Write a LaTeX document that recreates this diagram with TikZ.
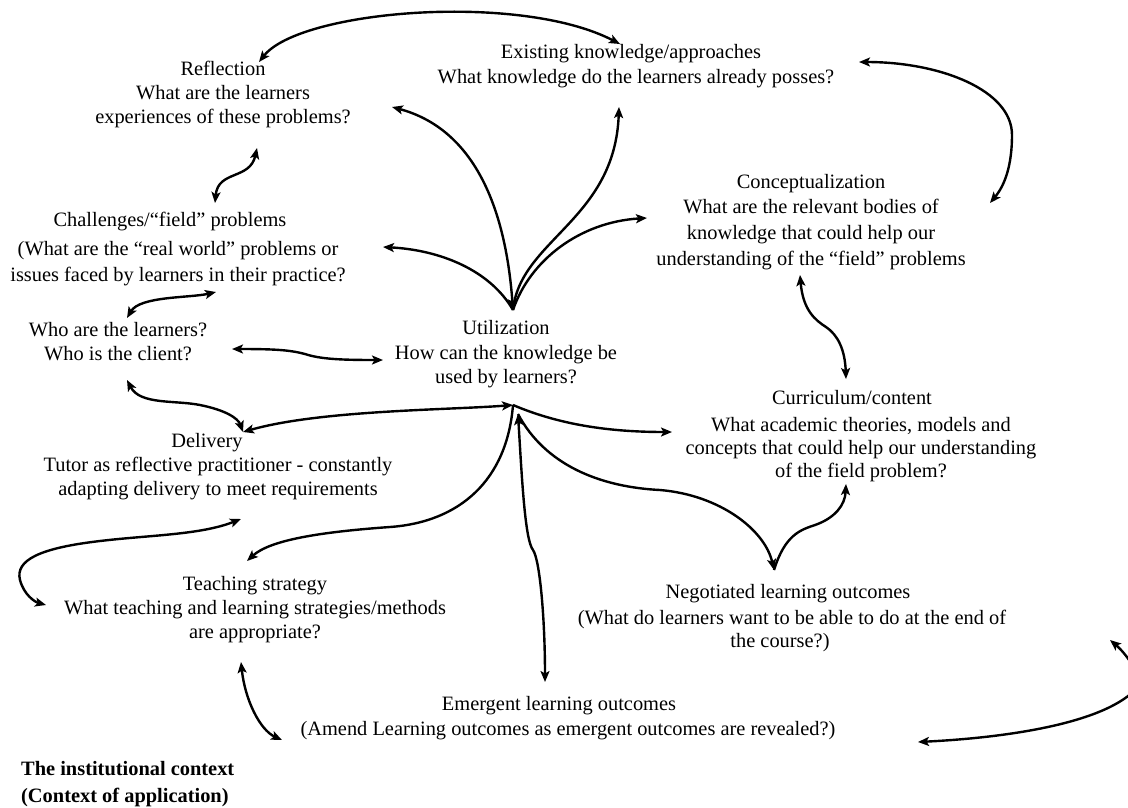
\documentclass[tikz,border=0pt]{standalone}
\usepackage{fontspec}
\setmainfont{Liberation Serif}
\usetikzlibrary{arrows.meta}
\begin{document}
\begin{tikzpicture}[x=1pt,y=-1pt,
  lbl/.style={align=center, inner sep=0pt, font=\fontsize{20.4}{24}\selectfont},
  tipshape/.tip={Stealth[length=11pt,width=9pt,inset=2.5pt]},
  conn/.style={line width=2.4pt, -tipshape},
  dconn/.style={line width=2.4pt, tipshape-tipshape}]
\useasboundingbox (0,0) rectangle (1128,807);
\clip (0,0) rectangle (1128,807);
\fill[white] (0,0) rectangle (1128,807);

% texts
\node[lbl] (exist) at (636,66) {Existing knowledge/approaches\hspace*{10pt}\\[1pt]What knowledge do the learners already posses?};
\node[lbl] (refl) at (223,94) {Reflection\\What are the learners\\experiences of these problems?};
\node[lbl] (chall) at (178,249.5) {Challenges/“field” problems\hspace*{16pt}\\[5pt](What are the “real world” problems or\\[2pt]issues faced by learners in their practice?};
\node[lbl] (who) at (118,341.5) {Who are the learners?\\Who is the client?};
\node[lbl] (util) at (506,354) {Utilization\\[1pt]How can the knowledge be\\used by learners?};
\node[lbl] (concept) at (811,222.5) {Conceptualization\\[1pt]What are the relevant bodies of\\[2pt]knowledge that could help our\\[2pt]understanding of the “field” problems};
\node[lbl] (curric) at (861,436) {Curriculum/content\hspace*{18pt}\\[3pt]What academic theories, models and\\[-1pt]concepts that could help our understanding\\[-1pt]of the field problem?};
\node[lbl] (deliv) at (218,466.5) {Delivery\hspace*{22pt}\\Tutor as reflective practitioner - constantly\\adapting delivery to meet requirements};
\node[lbl] (teach) at (255,610) {Teaching strategy\\What teaching and learning strategies/methods\\are appropriate?};
\node[lbl] (negot) at (792,618) {Negotiated learning outcomes\hspace*{8pt}\\[2pt](What do learners want to be able to do at the end of\\[-1pt]the course?)\hspace*{24pt}};
\node[lbl] (emerg) at (568,718) {Emergent learning outcomes\hspace*{18pt}\\[1pt](Amend Learning outcomes as emergent outcomes are revealed?)};
\node[lbl, align=left, anchor=west, font=\bfseries\fontsize{20.4}{24}\selectfont] (inst) at (21,784) {The institutional context\\[3pt](Context of application)};

% connector end points
\coordinate (hubT) at (513,310);
\coordinate (hubB) at (513,405);
\coordinate (hubE) at (518,414);
\coordinate (reflTop) at (259,62);
\coordinate (existTop) at (620,44);
\coordinate (reflR) at (392,107);
\coordinate (existB) at (619,107);
\coordinate (conceptL) at (647,218);
\coordinate (challR) at (383,247);
\coordinate (whoR) at (232,349);
\coordinate (utilL) at (383,360);
\coordinate (reflB) at (257,148);
\coordinate (challT) at (215,203);
\coordinate (challB) at (216,292);
\coordinate (whoT) at (127,318);
\coordinate (whoB) at (127,380);
\coordinate (delivT) at (243,432);
\coordinate (curricL) at (672,432);
\coordinate (teachT) at (247,561);
\coordinate (emergT) at (545,682);
\coordinate (negotT) at (774,570);
\coordinate (curricB) at (846,484);
\coordinate (conceptB) at (800,275);
\coordinate (curricT) at (846,379);
\coordinate (existR) at (859,62);
\coordinate (conceptR) at (990,203);
\coordinate (delivB) at (241,519);
\coordinate (teachL) at (46,605);
\coordinate (teachB) at (241,662);
\coordinate (emergL) at (282,740);
\coordinate (emergR) at (918,742);
\coordinate (negotR) at (1110,640);

% connectors
\draw[dconn] (reflTop) .. controls (300,10) and (520,-8) .. (existTop);
\draw[dconn] (hubT) .. controls (505,200) and (470,128) .. (reflR);
\draw[conn] (hubT) .. controls (520,240) and (615,220) .. (existB);
\draw[conn] (hubT) .. controls (530,260) and (580,222) .. (conceptL);
\draw[conn] (hubT) .. controls (490,270) and (440,250) .. (challR);
\draw[dconn] (whoR) .. controls (275,349) and (290,350) .. (305,354) .. controls (320,359) and (340,360) .. (utilL);
\draw[dconn] (reflB) .. controls (250,180) and (218,170) .. (challT);
\draw[dconn] (challB) .. controls (190,298) and (140,296) .. (whoT);
\draw[dconn] (whoB) .. controls (140,405) and (175,400) .. (200,405) .. controls (225,410) and (238,418) .. (delivT);
\draw[dconn] (hubB) .. controls (450,410) and (320,410) .. (delivT);
\draw[conn] (hubB) .. controls (560,425) and (610,432) .. (curricL);
\draw[conn] (hubB) .. controls (507,480) and (460,522) .. (390,527) .. controls (320,532) and (270,540) .. (teachT);
\draw[dconn] (hubE) .. controls (522,480) and (525,540) .. (533,550) .. controls (540,560) and (545,620) .. (emergT);
\draw[conn] (hubE) .. controls (545,465) and (600,487) .. (660,490) .. controls (720,495) and (765,530) .. (negotT);
\draw[conn] (negotT) .. controls (785,535) and (800,530) .. (815,525) .. controls (835,518) and (845,505) .. (curricB);
\draw[dconn] (conceptB) .. controls (803,310) and (815,320) .. (826,327) .. controls (838,335) and (845,350) .. (curricT);
\draw[dconn] (existR) .. controls (940,62) and (1012,90) .. (1012,135) .. controls (1012,165) and (1005,185) .. (conceptR);
\draw[dconn] (delivB) .. controls (200,535) and (150,535) .. (100,541) .. controls (40,548) and (15,560) .. (20,580) .. controls (24,595) and (35,602) .. (teachL);
\draw[dconn] (teachB) .. controls (245,700) and (260,730) .. (emergL);
\draw[dconn] (emergR) .. controls (1000,738) and (1100,725) .. (1135,690) .. controls (1145,675) and (1122,650) .. (negotR);
\end{tikzpicture}
\end{document}
